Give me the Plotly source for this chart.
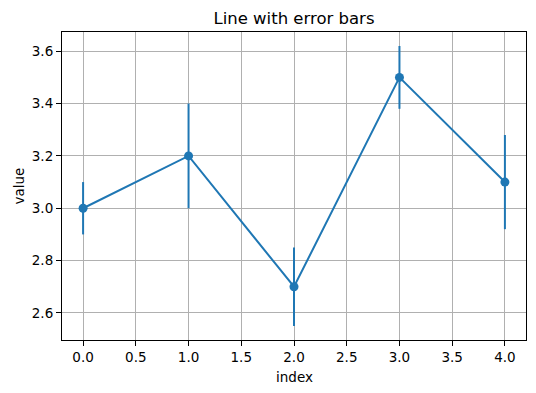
import plotly.graph_objects as go

x_vals = [0, 1, 2, 3, 4]
y_vals = [3.0, 3.2, 2.7, 3.5, 3.1]
y_err = [0.10, 0.20, 0.15, 0.12, 0.18]
x_ticks = [0.0, 0.5, 1.0, 1.5, 2.0, 2.5, 3.0, 3.5, 4.0]
y_ticks = [2.6, 2.8, 3.0, 3.2, 3.4, 3.6]

color = "#1f77b4"
font = "DejaVu Sans"
off = 8  # page body margin offset

fig = go.Figure()
fig.add_trace(go.Scatter(
    x=x_vals, y=y_vals, mode="lines+markers",
    line=dict(color=color, width=2),
    marker=dict(color=color, size=9),
    error_y=dict(type="data", array=y_err, visible=True, color=color, thickness=2, width=0),
    showlegend=False,
))

axis_common = dict(
    showgrid=True, gridcolor="#b0b0b0", gridwidth=1.1,
    showline=True, linecolor="black", linewidth=1.1, mirror=True,
    ticks="outside", ticklen=5, tickwidth=1.1, tickcolor="black",
    tickfont=dict(family=font, size=13.5, color="black"),
    zeroline=False, automargin=False,
)

W, H = 536, 393
ml, mr, mt, mb = 61.5 - off, 9.5 + off, 32.3 - off, 53 + off
plot_h = H - mt - mb
plot_w = W - ml - mr

fig.update_layout(
    width=W, height=H,
    margin=dict(l=ml, r=mr, t=mt, b=mb, autoexpand=False),
    paper_bgcolor="white", plot_bgcolor="white",
    title=dict(text="Line with error bars", x=0.5, xref="paper", xanchor="center",
               y=1 - (18.5 - off) / H, yref="container", yanchor="middle",
               font=dict(family=font, size=16.5, color="black")),
    xaxis=dict(range=[-0.2, 4.2], tickvals=x_ticks,
               ticktext=[f"{v:.1f}" for v in x_ticks], **axis_common),
    yaxis=dict(range=[2.4965, 3.6735], tickvals=y_ticks,
               ticktext=[f"{v:.1f}" for v in y_ticks], **axis_common),
    annotations=[
        dict(text="index", xref="paper", yref="paper", x=0.5, y=-(376.5 - 340) / plot_h,
             xanchor="center", yanchor="middle", showarrow=False,
             font=dict(family=font, size=13.5, color="black")),
        dict(text="value", xref="paper", yref="paper", x=-(61.5 - 18) / plot_w, y=0.5,
             xanchor="center", yanchor="middle", textangle=-90, showarrow=False,
             font=dict(family=font, size=13.5, color="black")),
    ],
)

fig.write_html("out.html")
